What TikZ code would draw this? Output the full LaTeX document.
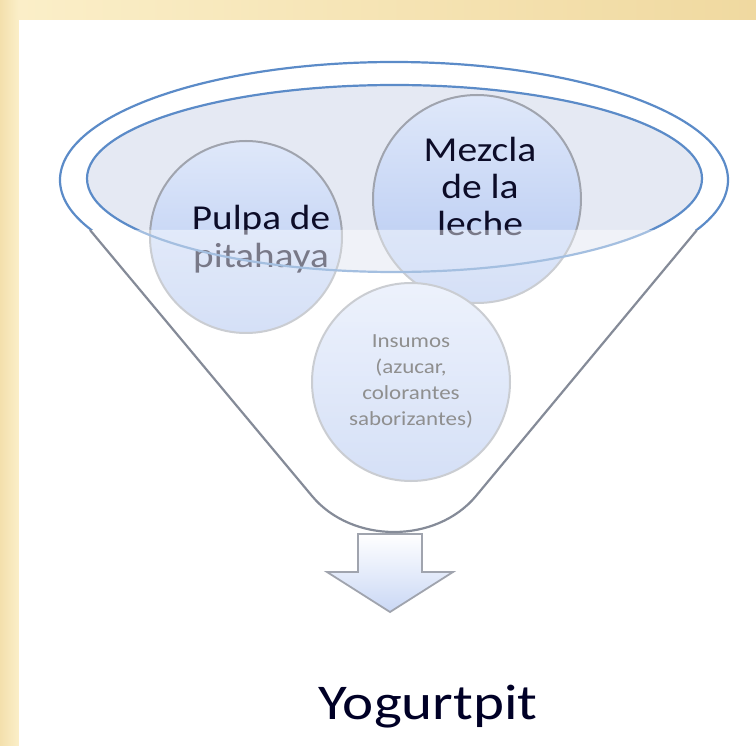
\documentclass[tikz,border=0pt]{standalone}
\usepackage{fontspec}
\setmainfont{Carlito}
\usetikzlibrary{shapes.geometric}
\definecolor{bandA}{HTML}{FBEFC9}
\definecolor{bandB}{HTML}{F0D9A0}
\definecolor{rimblue}{HTML}{5B8BC8}
\definecolor{innerfill}{HTML}{E5E9F3}
\definecolor{circline}{HTML}{A0A4AE}
\definecolor{funnelgray}{HTML}{858B98}
\definecolor{circtop}{HTML}{DFE8FA}
\definecolor{circbot}{HTML}{B3C7F1}
\definecolor{txtdark}{HTML}{0C0C28}
\definecolor{txtgray}{HTML}{333333}
\tikzset{
  bubble/.style={circle, draw=circline, line width=2pt, top color=circtop, bottom color=circbot, inner sep=0pt},
  lbl/.style={inner sep=0pt, anchor=base, text=txtdark},
}
\begin{document}
\begin{tikzpicture}[x=1pt, y=-1pt]
\useasboundingbox (0,0) rectangle (756,746);
% background frame
\fill[left color=bandA, right color=bandB] (0,0) rectangle (756,20);
\fill[left color=bandB!70!bandA, right color=bandA] (0,0) rectangle (19,746);
\fill[white] (19,20) rectangle (756,746);
% arrow
\draw[draw=circline, line width=1.8pt, top color=white, bottom color=circbot!70!white, line join=miter]
  (358,534) -- (422,534) -- (422,572) -- (453,572) -- (390,612) -- (327,572) -- (358,572) -- cycle;
% inner rim fill
\fill[innerfill] (394.5,178.5) ellipse [x radius=307.5pt, y radius=93.5pt];
% bubbles
\node[bubble, minimum size=192pt] (pulpa) at (246,237) {};
\node[bubble, minimum size=208pt] (mezcla) at (477,199) {};
\node[bubble, minimum size=198pt] (insumos) at (411,382) {};
% texts
\node[lbl] (tpulpa) at (261,230) {\scalebox{1.12}[1]{\fontsize{35}{38}\selectfont\begin{tabular}[t]{@{}c@{}}Pulpa de\\pitahaya\end{tabular}}};
\node[lbl] (tmezcla) at (480,162) {\scalebox{1.13}[1]{\fontsize{35}{37}\selectfont\begin{tabular}[t]{@{}c@{}}Mezcla\\de la\\leche\end{tabular}}};
\node[lbl, text=txtgray] (tinsumos) at (411,348) {\scalebox{1.15}[1]{\fontsize{20}{26}\selectfont\begin{tabular}[t]{@{}c@{}}Insumos\\(azucar,\\colorantes\\saborizantes)\end{tabular}}};
% inner rim outline
\draw[rimblue, line width=2.2pt] (394.5,178.5) ellipse [x radius=307.5pt, y radius=93.5pt];
% outer rim (upper part)
\begin{scope}
  \clip (0,0) rectangle (756,230);
  \draw[rimblue, line width=2.2pt] (394,180) ellipse [x radius=334pt, y radius=118pt];
\end{scope}
% glass overlay of funnel body
\coordinate (fl) at (90,230);
\coordinate (fr) at (697,230);
\coordinate (bl) at (312,496);
\coordinate (br) at (476,496);
\fill[white, fill opacity=0.45] (fl) -- (fr) -- (br) .. controls (436,544) and (352,544) .. (bl) -- cycle;
\draw[funnelgray, line width=2.2pt, line join=round] (fl) -- (bl) .. controls (352,544) and (436,544) .. (br) -- (fr);
% result label
\node[lbl, text=black!85!blue] (yog) at (428,719) {\scalebox{1.18}[1]{\fontsize{50}{60}\selectfont Yogurtpit}};
\end{tikzpicture}
\end{document}
